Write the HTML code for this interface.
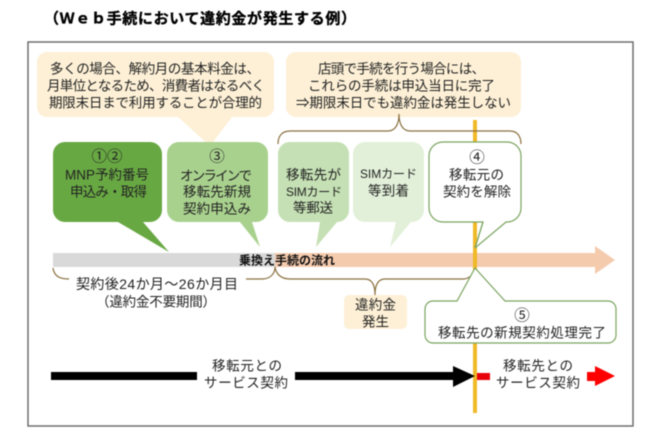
<!DOCTYPE html>
<html lang="ja">
<head>
<meta charset="utf-8">
<style>
html,body{margin:0;padding:0;background:#fff;width:656px;height:438px;overflow:hidden}
svg{display:block;filter:blur(.4px)}
text{font-family:"Liberation Sans","Noto Sans CJK JP",sans-serif;fill:#222;font-size:13.5px;dominant-baseline:central}
.c{font-size:15.5px}
.b{fill:none;stroke:#8b7140;stroke-width:1.2}
</style>
</head>
<body>
<svg width="656" height="438" viewBox="0 0 656 438" xmlns="http://www.w3.org/2000/svg">
<rect width="656" height="438" fill="#fff"/>
<text x="44" y="19" textLength="312" style="font-size:15px;font-weight:700;fill:#000;stroke:#000;stroke-width:.35">（Ｗｅｂ手続において違約金が発生する例）</text>
<rect x="28" y="42" width="605" height="384" fill="#fff" stroke="#666" stroke-width="1.4"/>

<!-- orange line -->
<rect x="473" y="120" width="4" height="293" fill="#f0b928"/>

<!-- top callouts -->
<path d="M47 52H264a10 10 0 0 1 10 10V107a10 10 0 0 1-10 10H232L210 146 178 117H47a10 10 0 0 1-10-10V62a10 10 0 0 1 10-10Z" fill="#fdf0d6"/>
<rect x="286" y="52" width="235" height="65" rx="10" fill="#fdf0d6"/>
<text x="50" y="69" textLength="210">多くの場合、解約月の基本料金は、</text>
<text x="47" y="86" textLength="218">月単位となるため、消費者はなるべく</text>
<text x="49" y="103" textLength="213">期限末日まで利用することが合理的</text>
<text x="318" y="69" textLength="167">店頭で手続を行う場合には、</text>
<text x="308" y="86" textLength="187">これらの手続は申込当日に完了</text>
<text x="296" y="103" textLength="215">⇒期限末日でも違約金は発生しない</text>

<!-- upper bracket -->
<path class="b" d="M278 144C278 136 282 131 290 131H388C394 131 399 126 399 114C399 126 404 131 410 131H510C517 131 521 136 521 144"/>

<!-- green boxes -->
<path d="M65 142H150a12 12 0 0 1 12 12V210a12 12 0 0 1-12 12H143L169 252 118 222H65a12 12 0 0 1-12-12V154a12 12 0 0 1 12-12Z" fill="#68a843"/>
<path d="M179 142H256a12 12 0 0 1 12 12V210a12 12 0 0 1-12 12H252L260 247 240 222H179a12 12 0 0 1-12-12V154a12 12 0 0 1 12-12Z" fill="#a9d18e"/>
<path d="M290 142H337a12 12 0 0 1 12 12V210a12 12 0 0 1-12 12H337L316 247 320 222H290a12 12 0 0 1-12-12V154a12 12 0 0 1 12-12Z" fill="#c5e0b4"/>
<path d="M365 142H412a12 12 0 0 1 12 12V210a12 12 0 0 1-12 12H411L390 247 396 222H365a12 12 0 0 1-12-12V154a12 12 0 0 1 12-12Z" fill="#e2f0d9"/>
<path d="M443 142H507a14 14 0 0 1 14 14V208a14 14 0 0 1-14 14H506L475 248 483 222H443a14 14 0 0 1-14-14V156a14 14 0 0 1 14-14Z" fill="#fff" stroke="#7ba560" stroke-width="1.2"/>
<rect x="473" y="223" width="4" height="22" fill="#f0b928"/>
<path d="M483 222L475 248" stroke="#7ba560" stroke-width="1.2" fill="none"/>

<text x="107" y="157" text-anchor="middle" class="c">①②</text>
<text x="65" y="175" textLength="84">MNP予約番号</text>
<text x="70" y="192" textLength="77">申込み・取得</text>
<text x="217" y="157" text-anchor="middle" class="c">③</text>
<text x="180" y="176" textLength="72">オンラインで</text>
<text x="183" y="192" textLength="68">移転先新規</text>
<text x="183" y="209" textLength="68">契約申込み</text>
<text x="286" y="175" textLength="55">移転先が</text>
<text x="286" y="192" textLength="56" style="font-size:12px">SIMカード</text>
<text x="293" y="208" textLength="40">等郵送</text>
<text x="360" y="174" textLength="57" style="font-size:12px">SIMカード</text>
<text x="368" y="191" textLength="41">等到着</text>
<text x="477" y="158" text-anchor="middle" class="c">④</text>
<text x="449" y="175" textLength="55">移転元の</text>
<text x="443" y="192" textLength="68">契約を解除</text>

<!-- flow arrow -->
<rect x="53" y="253" width="222" height="14" fill="#d9d9d9"/>
<path d="M275 253H595V246L615 260 595 274V267H275Z" fill="#f5cbae"/>
<rect x="473" y="248" width="4" height="20" fill="#f0b928"/>
<text x="239" y="260.5" textLength="96" style="font-size:12px;font-weight:700;fill:#111">乗換え手続の流れ</text>

<!-- lower brackets -->
<path class="b" d="M53 268C54 275 58 279 69 279"/>
<path class="b" d="M246 279H262C270 279 275 274 275 267C276 274 281 279 290 279H365C371 279 375 283 375 295C375 283 379 279 385 279H463C470 279 473 274 475 268"/>
<text x="76" y="284" textLength="162" style="font-size:14px">契約後24か月～26か月目</text>
<text x="96" y="302" textLength="120">（違約金不要期間）</text>

<rect x="344" y="295" width="63" height="34" rx="5" fill="#fdf0d6"/>
<text x="355" y="305" textLength="41">違約金</text>
<text x="362" y="322" textLength="27">発生</text>

<!-- callout 5 -->
<path d="M433 301H457L475 268 505 301H608a8 8 0 0 1 8 8V335a8 8 0 0 1-8 8H433a8 8 0 0 1-8-8V309a8 8 0 0 1 8-8Z" fill="#fff" stroke="#7ba560" stroke-width="1.2"/>
<text x="522" y="316" text-anchor="middle" class="c">⑤</text>
<text x="438" y="333" textLength="168">移転先の新規契約処理完了</text>

<!-- contract arrows -->
<rect x="51" y="372" width="146" height="8" fill="#000"/>
<path d="M295 372H453V366L475 376 453 387V380H295Z" fill="#000"/>
<text x="212" y="366" textLength="70">移転元との</text>
<text x="204" y="383" textLength="84">サービス契約</text>
<rect x="477" y="373" width="13" height="7" fill="#e8000b"/>
<text x="503" y="366" textLength="70">移転先との</text>
<text x="496" y="383" textLength="84">サービス契約</text>
<path d="M587 372H595V366L615 376 595 386V381H587Z" fill="#f00"/>
</svg>
</body>
</html>
